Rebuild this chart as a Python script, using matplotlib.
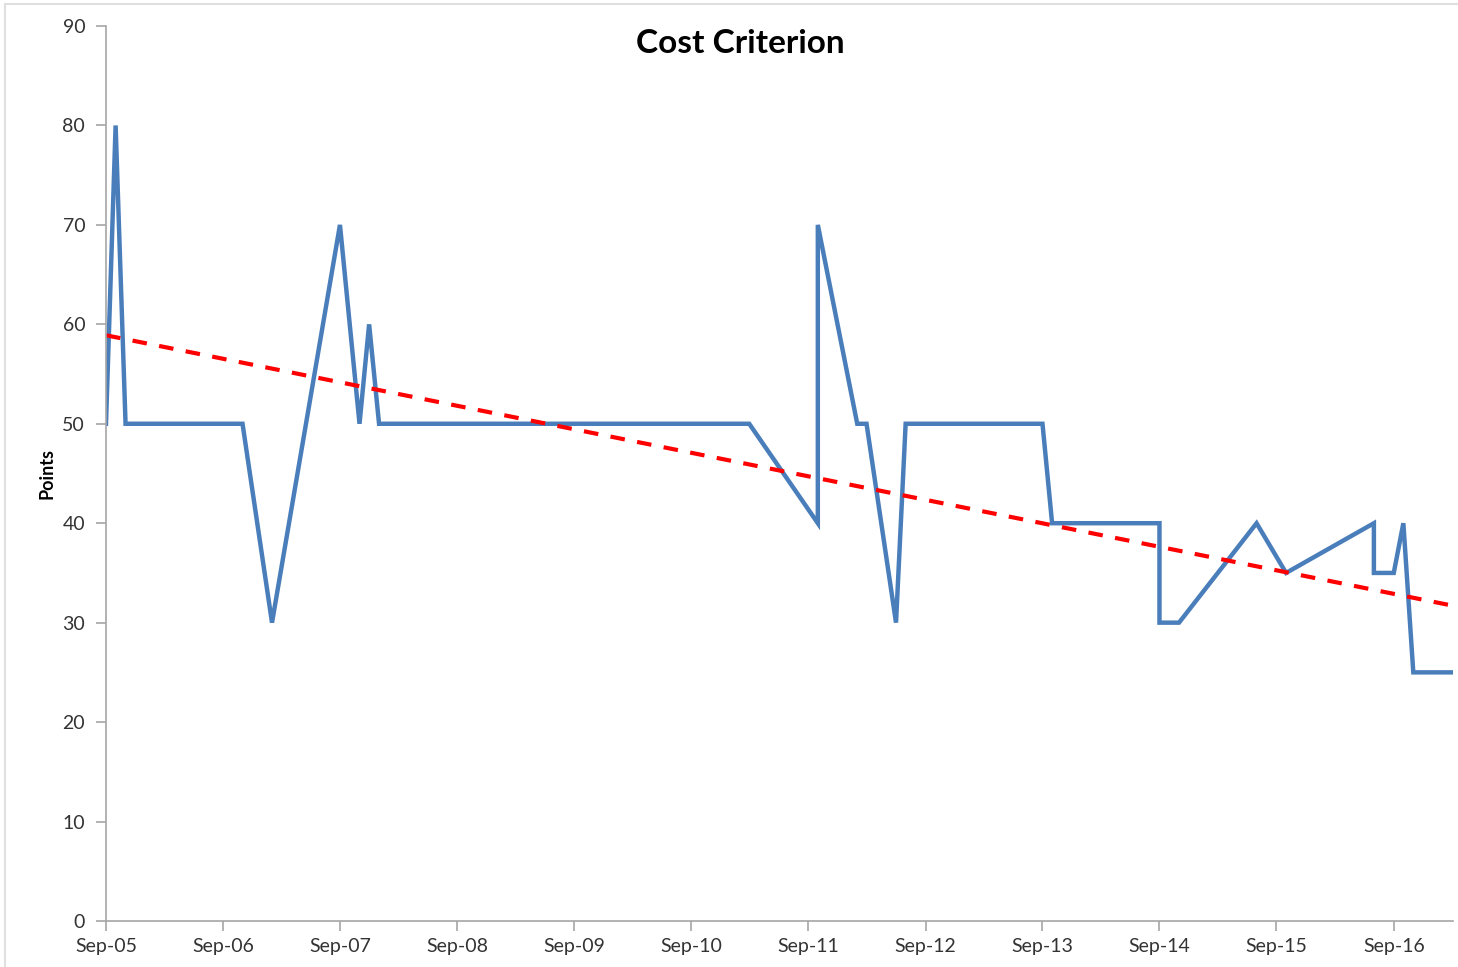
import numpy as np
import matplotlib
matplotlib.use('Agg')
import matplotlib.pyplot as plt
import matplotlib.dates as mdates
from datetime import datetime

# data (month, points)
dates = ["2005-09", "2005-10", "2005-11", "2006-11", "2007-02", "2007-09",
         "2007-11", "2007-12", "2008-01", "2011-03", "2011-10", "2011-10",
         "2012-02", "2012-03", "2012-06", "2012-07", "2013-09", "2013-10",
         "2014-09", "2014-09", "2014-11", "2015-07", "2015-10", "2016-07",
         "2016-07", "2016-09", "2016-10", "2016-11", "2017-03"]
points = [50, 80, 50, 50, 30, 70,
          50, 60, 50, 50, 40, 70,
          50, 50, 30, 50, 50, 40,
          40, 30, 30, 40, 35, 40,
          35, 35, 40, 25, 25]
# linear trend line values at the ends of the axis
trend_dates = ["2005-09-01", "2017-03-05"]
trend_values = [58.9, 31.7]
y_ticks = [0, 10, 20, 30, 40, 50, 60, 70, 80, 90]
x_tick_years = list(range(2005, 2017))

x = [datetime.strptime(d, "%Y-%m") for d in dates]
tx = [datetime.strptime(d, "%Y-%m-%d") for d in trend_dates]

plt.rcParams['font.family'] = ['Lato', 'DejaVu Sans']

fig = plt.figure(figsize=(14.58, 9.67), dpi=100)
ax = fig.add_axes([0.0727, 0.0476, 0.9239, 0.9255])

ax.plot(x, points, color='#4a7ebb', linewidth=3.2, solid_joinstyle='miter')
ax.plot(tx, trend_values, color='#ff0000', linewidth=3,
        linestyle=(0, (3.5, 3)))

ax.set_xlim(tx[0], tx[1])
ax.set_ylim(0, 90)
ax.set_yticks(y_ticks)
ax.set_xticks([datetime(yr, 9, 1) for yr in x_tick_years])
ax.xaxis.set_major_formatter(mdates.DateFormatter('%b-%y'))

for side in ['top', 'right']:
    ax.spines[side].set_visible(False)
for side in ['left', 'bottom']:
    ax.spines[side].set_color('#a6a6a6')
    ax.spines[side].set_linewidth(1.2)
ax.tick_params(axis='both', colors='#a6a6a6', length=7, width=1.2,
               labelsize=14, labelcolor='#333333')
ax.tick_params(axis='x', pad=5)
ax.tick_params(axis='y', pad=8)

ax.set_ylabel('Points', fontsize=13, fontweight='bold', labelpad=5)
fig.text(0.508, 0.955, 'Cost Criterion', ha='center', va='center',
         fontsize=24, fontweight='bold')

# faint chart-area border
fig.add_artist(plt.Line2D([0.0035, 0.0035], [0, 0.996], color='#e0e0e0',
                          linewidth=1.5, transform=fig.transFigure))
fig.add_artist(plt.Line2D([0.0035, 1], [0.996, 0.996], color='#e0e0e0',
                          linewidth=1.5, transform=fig.transFigure))

fig.savefig('out.png', dpi=100)
